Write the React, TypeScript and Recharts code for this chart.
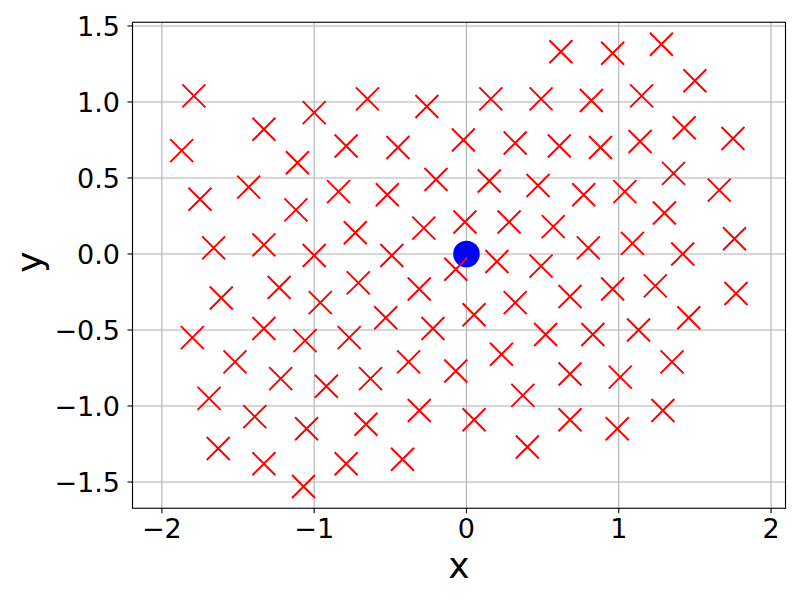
import React from "react";
import {
  CartesianGrid,
  ReferenceArea,
  Scatter,
  ScatterChart,
  XAxis,
  YAxis,
} from "recharts";

// red crosses
const crossX = [
  0.62, 0.96, 1.28, 1.5, -1.79, -1.0, -0.65, -0.26, 0.16, 0.49,
  0.82, 1.15, -1.87, -1.33, -1.11, -0.79, -0.45, -0.02, 0.32, 0.61,
  0.88, 1.14, 1.43, 1.75, -1.75, -1.43, -1.12, -0.84, -0.52, -0.2,
  0.15, 0.47, 0.77, 1.04, 1.36, 1.66, 1.3, -1.66, -1.33, -1.0,
  -0.73, -0.28, -0.01, 0.28, 0.57, 0.8, 1.09, 1.42, 1.76, -0.49,
  -0.07, 0.2, 0.49, -1.61, -1.23, -0.96, -0.71, -0.31, 0.68, 0.32,
  0.96, 1.24, 1.77, -0.53, 0.05, -0.22, 1.46, 0.52, 0.83, 1.13,
  -1.8, -1.33, -1.06, -0.77, -1.52, -1.22, -0.92, -1.69, -1.39, -1.05,
  -1.63, -1.33, -0.79, -1.07, 0.23, -0.38, -0.07, -0.63, 0.68, 0.37,
  -0.31, 0.05, 0.68, -0.66, 0.4, -0.42, 1.01, 1.35, 0.99, 1.29,
];
const crossY = [
  1.33, 1.32, 1.38, 1.14, 1.04, 0.93, 1.02, 0.97, 1.02, 1.02,
  1.01, 1.04, 0.68, 0.82, 0.6, 0.71, 0.7, 0.75, 0.73, 0.71,
  0.7, 0.74, 0.83, 0.76, 0.36, 0.44, 0.29, 0.41, 0.39, 0.49,
  0.48, 0.45, 0.39, 0.41, 0.53, 0.42, 0.27, 0.04, 0.06, -0.01,
  0.14, 0.17, 0.21, 0.21, 0.18, 0.04, 0.07, 0.0, 0.1, -0.01,
  -0.1, -0.05, -0.08, -0.29, -0.22, -0.32, -0.19, -0.23, -0.28, -0.32,
  -0.23, -0.21, -0.26, -0.42, -0.4, -0.49, -0.42, -0.53, -0.53, -0.5,
  -0.55, -0.49, -0.57, -0.55, -0.71, -0.82, -0.87, -0.95, -1.07, -1.15,
  -1.28, -1.38, -1.38, -1.53, -0.66, -0.71, -0.77, -0.82, -0.79, -0.93,
  -1.03, -1.09, -1.09, -1.12, -1.27, -1.35, -0.81, -0.71, -1.15, -1.03,
];

// blue dot
const originX = [0];
const originY = [0];

const xTicks = [-2, -1, 0, 1, 2];
const yTicks = [-1.5, -1.0, -0.5, 0.0, 0.5, 1.0, 1.5];
const xDomain = [-2.193, 2.095];
const yDomain = [-1.673, 1.524];

const crosses = crossX.map((x, i) => ({ x, y: crossY[i] }));
const origin = originX.map((x, i) => ({ x, y: originY[i] }));

const FONT = "'DejaVu Sans', sans-serif";
const minus = (s: string) => s.replace("-", "\u2212");

const Cross = (props: any) => {
  const { cx, cy } = props;
  const r = 11.5;
  return (
    <path
      d={`M${cx - r},${cy - r}L${cx + r},${cy + r}M${cx - r},${cy + r}L${cx + r},${cy - r}`}
      stroke="#ff0000"
      strokeWidth={2}
      fill="none"
    />
  );
};

const Dot = (props: any) => (
  <circle cx={props.cx} cy={props.cy} r={13.3} fill="#0000ff" />
);

export default function App() {
  const tick = { fontSize: 27, fill: "#000", fontFamily: FONT };
  return (
    <div style={{ position: "absolute", left: 0, top: 0, width: 800, height: 600, background: "#fff" }}>
      <ScatterChart
        width={800}
        height={600}
        margin={{ top: 22.3, right: 14.5, bottom: 0, left: 0 }}
      >
        <XAxis
          dataKey="x"
          type="number"
          domain={xDomain}
          allowDataOverflow
          ticks={xTicks}
          tickFormatter={(v) => minus(Number(v).toFixed(0))}
          tick={tick}
          tickSize={5}
          tickMargin={6}
          tickLine={{ stroke: "#000", strokeWidth: 1.1 }}
          axisLine={false}
          height={91.7}
          label={{
            content: () => (
              <text x={459} y={578.3} textAnchor="middle" fontSize={36} fontFamily={FONT} fill="#000">
                x
              </text>
            ),
          }}
        />
        <YAxis
          dataKey="y"
          type="number"
          domain={yDomain}
          allowDataOverflow
          ticks={yTicks}
          tickFormatter={(v) => minus(Number(v).toFixed(1))}
          tick={tick}
          tickSize={5}
          tickMargin={7.5}
          tickLine={{ stroke: "#000", strokeWidth: 1.1 }}
          axisLine={false}
          width={132.5}
          label={{
            content: () => (
              <text
                x={41.6}
                y={262}
                textAnchor="middle"
                fontSize={36}
                fontFamily={FONT}
                fill="#000"
                transform="rotate(-90, 41.6, 262)"
              >
                y
              </text>
            ),
          }}
        />
        <Scatter data={origin} shape={Dot} isAnimationActive={false} />
        <Scatter data={crosses} shape={Cross} isAnimationActive={false} />
        <CartesianGrid stroke="#b0b0b0" strokeWidth={1.1} />
        <ReferenceArea
          x1={xDomain[0]}
          x2={xDomain[1]}
          y1={yDomain[0]}
          y2={yDomain[1]}
          fill="none"
          stroke="#000"
          strokeWidth={1.1}
          ifOverflow="visible"
        />
      </ScatterChart>
    </div>
  );
}
